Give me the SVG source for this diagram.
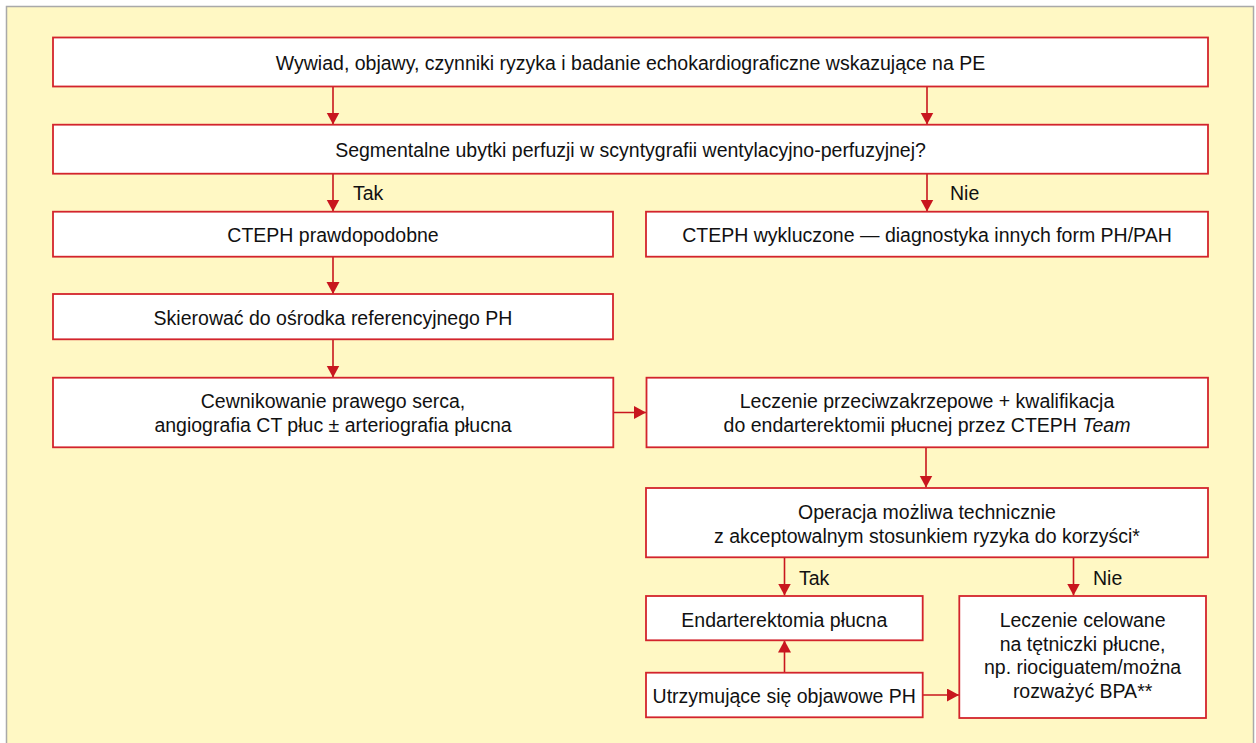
<svg xmlns="http://www.w3.org/2000/svg" width="1256" height="743" viewBox="0 0 1256 743">
<style>
.box{fill:#ffffff;stroke:#d3242c;stroke-width:1.8}
.t{font-family:"Liberation Sans",Arial,sans-serif;font-size:19.5px;fill:#111111;text-anchor:middle}
.lbl{font-family:"Liberation Sans",Arial,sans-serif;font-size:19.5px;fill:#111111}
.c{stroke:#c8161e;stroke-width:1.6;fill:none;marker-end:url(#ah)}
</style>
<defs>
<marker id="ah" markerUnits="userSpaceOnUse" markerWidth="14" markerHeight="14" refX="12" refY="6.5" orient="auto">
<path d="M0,0 L12,6.5 L0,13 z" fill="#c8161e"/>
</marker>
</defs>
<rect x="6.5" y="6.5" width="1247" height="745" fill="#fff8c4" stroke="#a9a9a9" stroke-width="1.5"/>
<g id="connectors">
<path class="c" d="M333,87 V124.5"/>
<path class="c" d="M927,87 V124.5"/>
<path class="c" d="M333,174 V211.5"/>
<path class="c" d="M927,174 V211.5"/>
<path class="c" d="M333,257 V294"/>
<path class="c" d="M333,339.5 V377.5"/>
<path class="c" d="M613.5,412.5 H646"/>
<path class="c" d="M926,447.5 V487.5"/>
<path class="c" d="M784.5,557.5 V595.5"/>
<path class="c" d="M1073.5,557.5 V595.5"/>
<path class="c" d="M784.5,672.5 V640.5"/>
<path class="c" d="M922.5,695 H959"/>
<text class="lbl" x="353" y="200">Tak</text>
<text class="lbl" x="950" y="200">Nie</text>
<text class="lbl" x="799" y="585">Tak</text>
<text class="lbl" x="1093" y="585">Nie</text>
</g>
<g id="n1"><rect class="box" x="53" y="37.5" width="1155" height="49"/>
<text class="t" x="630.5" y="69.5">Wywiad, objawy, czynniki ryzyka i badanie echokardiograficzne wskazujące na PE</text></g>
<g id="n2"><rect class="box" x="53" y="124.7" width="1155" height="49"/>
<text class="t" x="630.5" y="156.5">Segmentalne ubytki perfuzji w scyntygrafii wentylacyjno-perfuzyjnej?</text></g>
<g id="n3"><rect class="box" x="53" y="211.7" width="560" height="45"/>
<text class="t" x="333" y="241.5">CTEPH prawdopodobne</text></g>
<g id="n4"><rect class="box" x="646" y="211.7" width="562" height="45"/>
<text class="t" x="927" y="241.5">CTEPH wykluczone — diagnostyka innych form PH/PAH</text></g>
<g id="n5"><rect class="box" x="53" y="294" width="560" height="45.3"/>
<text class="t" x="333" y="324.5">Skierować do ośrodka referencyjnego PH</text></g>
<g id="n6"><rect class="box" x="53" y="377.7" width="560.3" height="69.6"/>
<text class="t" x="333" y="408.3">Cewnikowanie prawego serca,</text>
<text class="t" x="333" y="431.7">angiografia CT płuc ± arteriografia płucna</text></g>
<g id="n7"><rect class="box" x="646.5" y="377.7" width="561.5" height="69.6"/>
<text class="t" x="927" y="408.3">Leczenie przeciwzakrzepowe + kwalifikacja</text>
<text class="t" x="927" y="431.7">do endarterektomii płucnej przez CTEPH <tspan font-style="italic">Team</tspan></text></g>
<g id="n8"><rect class="box" x="646" y="488" width="562" height="69.3"/>
<text class="t" x="927" y="519.3">Operacja możliwa technicznie</text>
<text class="t" x="927" y="542.7">z akceptowalnym stosunkiem ryzyka do korzyści*</text></g>
<g id="n9"><rect class="box" x="646" y="596" width="276.7" height="44.3"/>
<text class="t" x="784.3" y="626.7">Endarterektomia płucna</text></g>
<g id="n10"><rect class="box" x="646" y="672.7" width="276.7" height="44.6"/>
<text class="t" x="784.3" y="702.5">Utrzymujące się objawowe PH</text></g>
<g id="n11"><rect class="box" x="959.3" y="596" width="246.7" height="122"/>
<text class="t" x="1082.6" y="626.7">Leczenie celowane</text>
<text class="t" x="1082.6" y="650.5">na tętniczki płucne,</text>
<text class="t" x="1082.6" y="674.3">np. riociguatem/można</text>
<text class="t" x="1082.6" y="698.3">rozważyć BPA**</text></g>
</svg>
